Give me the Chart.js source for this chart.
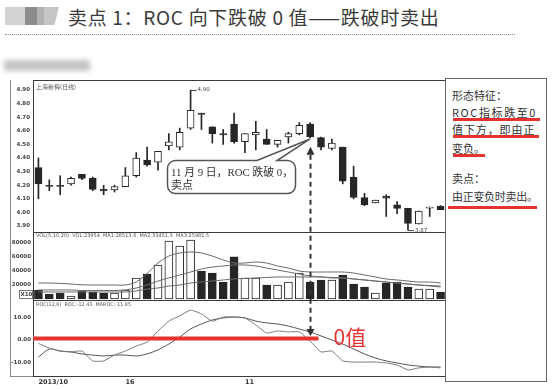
<!DOCTYPE html>
<html>
<head>
<meta charset="utf-8">
<script src="https://cdn.jsdelivr.net/npm/chart.js@4.4.0/dist/chart.umd.min.js"></script>
<style>
body{margin:0;background:#fff;width:553px;height:389px;overflow:hidden;position:relative;font-family:"Noto Sans CJK SC",sans-serif}
.abs{position:absolute;white-space:nowrap}
#title{left:68px;top:6px;font-size:19px;line-height:21px;color:#3a3a3a;letter-spacing:0.7px}
#dots{left:5px;top:34px;width:510px;border-top:1px dotted #8a8a8a}
#blur{left:4px;top:60px;width:86px;height:11px;background:#c4c4c4;filter:blur(2.5px)}
#side{left:445px;top:78px;width:100px;height:302px;border:1px solid #666;background:#fff}
.side{font-size:11px;line-height:13px;color:#333}
.red{position:absolute;height:3px;background:#e5332f}
</style>
</head>
<body>
<div class="abs" style="left:5px;top:7px;width:20px;height:18px;background:#d2d2d2"></div>
<div class="abs" style="left:25px;top:7px;width:12px;height:18px;background:#8c8c8c"></div>
<div class="abs" style="left:37px;top:7px;width:7px;height:18px;background:#b2b2b2"></div>
<div class="abs" style="left:44px;top:7px;width:15px;height:18px;background:#c6c6c6;clip-path:polygon(0 0,100% 0,70% 100%,0 100%)"></div>
<div id="title" class="abs">卖点 1：ROC 向下跌破 0 值——跌破时卖出</div>
<div id="dots" class="abs"></div>
<div id="blur" class="abs"></div>

<canvas id="chart" width="553" height="389" style="position:absolute;left:0;top:0"></canvas>

<div id="side" class="abs"></div>
<div class="abs side" style="left:452px;top:89px">形态特征：</div>
<div class="abs side" style="left:452px;top:106px;letter-spacing:1.6px">ROC指标跌至0</div>
<div class="red" style="left:453px;top:118px;width:87px"></div>
<div class="abs side" style="left:452px;top:123px;letter-spacing:0.9px">值下方，即由正</div>
<div class="red" style="left:453px;top:135px;width:86px"></div>
<div class="abs side" style="left:452px;top:142px">变负。</div>
<div class="red" style="left:453px;top:154px;width:32px"></div>
<div class="abs side" style="left:452px;top:172px">卖点：</div>
<div class="abs side" style="left:452px;top:190px;letter-spacing:-0.3px">由正变负时卖出。</div>
<div class="red" style="left:448px;top:206px;width:89px"></div>

<script>
// daily bars
var dateTicks = ['2013/10', '', '', '', '', '', '', '', '16', '',
	'', '', '', '', '', '', '', '', '', '11',
	'', '', '', '', '', '', '', '', '', '',
	'', '', '', '', '', '', '', ''];
var opens = [4.33, 4.20, 4.20, 4.21, 4.28, 4.25, 4.17, 4.165, 4.19, 4.27,
	4.385, 4.37, 4.49, 4.48, 4.62, 4.73, 4.63, 4.58, 4.65, 4.52,
	4.57, 4.54, 4.50, 4.555, 4.58, 4.65, 4.55, 4.47, 4.48, 4.26,
	4.11, 4.07, 4.12, 4.055, 4.03, 3.915, 4.032, 4.045];
var highs = [4.40, 4.24, 4.27, 4.26, 4.28, 4.26, 4.20, 4.20, 4.33, 4.44,
	4.48, 4.45, 4.58, 4.62, 4.90, 4.73, 4.63, 4.61, 4.73, 4.58,
	4.67, 4.61, 4.53, 4.59, 4.66, 4.66, 4.555, 4.54, 4.48, 4.34,
	4.14, 4.09, 4.13, 4.08, 4.03, 4.01, 4.04, 4.05];
var lows = [4.10, 4.16, 4.13, 4.20, 4.24, 4.16, 4.13, 4.15, 4.19, 4.26,
	4.34, 4.31, 4.46, 4.46, 4.61, 4.61, 4.51, 4.50, 4.51, 4.44,
	4.46, 4.50, 4.48, 4.51, 4.57, 4.55, 4.46, 4.46, 4.21, 4.10,
	4.05, 4.07, 3.97, 3.99, 3.87, 3.915, 3.97, 4.02];
var closes = [4.21, 4.192, 4.192, 4.25, 4.25, 4.17, 4.158, 4.19, 4.27, 4.40,
	4.35, 4.45, 4.52, 4.59, 4.75, 4.72, 4.58, 4.57, 4.52, 4.58,
	4.59, 4.50, 4.53, 4.58, 4.64, 4.555, 4.48, 4.51, 4.23, 4.11,
	4.055, 4.09, 4.105, 4.03, 3.92, 4.01, 4.04, 4.02];
var volumes = [12700, 7000, 8500, 4200, 11300, 9900, 8500, 8500, 12700, 29600,
	35200, 47900, 81700, 74600, 83100, 39400, 36600, 23900, 59200, 29600,
	29600, 19700, 19700, 23900, 36600, 23900, 26800, 26800, 33800, 21100,
	16900, 8500, 22500, 23900, 16900, 14100, 14100, 9900];
var volMa1 = [22500, 22500, 22000, 21100, 20000, 19700, 19700, 19700, 19700, 24000,
	36000, 50700, 60500, 64800, 66200, 64800, 60500, 54900, 50700, 50700,
	52100, 50700, 46500, 43600, 39400, 38000, 38000, 38000, 38000, 36600,
	33800, 31000, 28200, 26800, 25300, 23900, 23900, 22500];
var volMa2 = [12700, 12700, 12700, 12700, 12000, 12000, 12000, 12000, 12700, 15500,
	19700, 25300, 29600, 33800, 38000, 42200, 45000, 46500, 47900, 47900,
	46500, 43600, 40800, 38000, 35200, 32400, 31000, 29600, 29600, 28200,
	26800, 25300, 23900, 22500, 21100, 19700, 18300, 16900];
var volMa3 = [9900, 9900, 9900, 9900, 9900, 9900, 9900, 9900, 9900, 11300,
	14100, 15500, 18300, 19700, 22500, 23900, 25300, 26800, 28200, 29000,
	29600, 30300, 31000, 31000, 31000, 31000, 31000, 30300, 29600, 28200,
	26800, 25300, 23900, 22500, 21100, 19700, 19000, 18300];
var roc = [-1.5, -3.6, -4.9, -5.3, -4.9, -9.3, -9.3, -6.7, -4.9, -2.7,
	-0.9, 4.0, 8.4, 10.7, 13.3, 11.6, 8.4, 10.2, 10.2, 9.8,
	6.7, 3.1, 4.0, 3.6, 3.6, -0.5, -5.3, -4.9, -9.3, -9.8,
	-9.8, -9.8, -10.2, -11.1, -13.3, -12.4, -12.0, -12.4];
var maroc = [-7.6, -4.0, -4.9, -5.3, -6.2, -6.7, -7.1, -6.7, -6.7, -7.1,
	-6.2, -4.4, -1.8, 1.3, 4.9, 7.1, 8.9, 9.8, 10.2, 9.8,
	8.4, 7.6, 7.1, 6.2, 4.9, 3.6, 1.8, 0, -1.8, -4.0,
	-6.2, -8.0, -9.3, -10.2, -11.1, -11.6, -12.0, -12.0];

var priceTicks = [3.90, 4.00, 4.10, 4.20, 4.30, 4.40, 4.50, 4.60, 4.70, 4.80, 4.90];
var volTicks = [20000, 40000, 60000, 80000];
var rocTicks = [-10, 0, 10];
var breakIndex = 25; // 11月9日

var ink = '#262626';
var candleFill = closes.map(function (c, i) { return c > opens[i] ? '#fff' : ink; });

var overlay = {
	id: 'overlay',
	afterDatasetsDraw: function (chart) {
		var ctx = chart.ctx, a = chart.chartArea, sx = chart.scales.x;
		var yp = chart.scales.yPrice, yv = chart.scales.yVol, yr = chart.scales.yRoc;
		ctx.save();

		//panel frames
		ctx.strokeStyle = '#3a3a3a';
		ctx.lineWidth = 1;
		[yp, yv, yr].forEach(function (s) {
			ctx.strokeRect(a.left + 0.5, Math.round(s.top) + 0.5, Math.round(a.right - a.left), Math.round(s.bottom - s.top));
		});
		ctx.strokeStyle = '#8a8a8a';
		ctx.beginPath();
		ctx.moveTo(10.5, a.top); ctx.lineTo(10.5, a.bottom);
		ctx.moveTo(10, Math.round(a.bottom) + 0.5); ctx.lineTo(a.left, Math.round(a.bottom) + 0.5);
		ctx.stroke();

		//tiny panel headers
		ctx.fillStyle = '#555';
		ctx.textBaseline = 'middle';
		ctx.textAlign = 'left';
		ctx.font = '6px "Noto Sans CJK SC"';
		ctx.fillText('上海新梅(日线)', a.left + 3, yp.top + 7);
		ctx.font = '5px "DejaVu Sans"';
		ctx.fillText('VOL(5,10,20)  VOL:23954  MA1:28513.6  MA2:33451.3  MA3:25981.5', a.left + 3, yv.top + 4, 195);
		ctx.fillText('ROC(12,6)  ROC:-12.43  MAROC:-11.85', a.left + 3, yr.top + 5, 95);

		//high / low marks
		var hx = sx.getPixelForValue(14), hy = yp.getPixelForValue(highs[14]);
		var lx = sx.getPixelForValue(34), ly = yp.getPixelForValue(lows[34]);
		ctx.strokeStyle = '#444';
		ctx.beginPath();
		ctx.moveTo(hx, hy + 0.5); ctx.lineTo(hx + 6, hy + 0.5);
		ctx.moveTo(lx, ly + 0.5); ctx.lineTo(lx + 6, ly + 0.5);
		ctx.stroke();
		ctx.font = '5.5px "DejaVu Sans"';
		ctx.fillStyle = '#444';
		ctx.fillText(highs[14].toFixed(2), hx + 7, hy);
		ctx.fillText(lows[34].toFixed(2), lx + 7, ly);

		//unit box
		ctx.strokeStyle = '#777';
		ctx.strokeRect(19.5, yv.bottom - 9.5, 13, 8);
		ctx.font = 'bold 5.5px "DejaVu Sans"';
		ctx.fillText('X10', 20.5, yv.bottom - 5.5);

		//zero line
		var px = Math.round(sx.getPixelForValue(breakIndex)) + 0.5;
		var y0 = yr.getPixelForValue(0) - 1.5;
		ctx.strokeStyle = '#e5332f';
		ctx.lineWidth = 4;
		ctx.beginPath();
		ctx.moveTo(a.left, y0); ctx.lineTo(px + 8, y0);
		ctx.stroke();
		ctx.fillStyle = '#e5332f';
		ctx.font = '21px "Noto Sans CJK SC"';
		ctx.fillText('0值', px + 23, y0 - 1);

		//dashed arrow from the candle to the zero line
		var yTop = yp.getPixelForValue(lows[breakIndex]) + 9;
		var yBot = yr.getPixelForValue(0) - 4;
		ctx.strokeStyle = '#333';
		ctx.lineWidth = 2;
		ctx.setLineDash([5, 4]);
		ctx.beginPath();
		ctx.moveTo(px, yTop + 8); ctx.lineTo(px, yBot - 6);
		ctx.stroke();
		ctx.setLineDash([]);
		ctx.fillStyle = '#333';
		ctx.beginPath();
		ctx.moveTo(px, yTop); ctx.lineTo(px - 4, yTop + 8); ctx.lineTo(px + 4, yTop + 8);
		ctx.fill();
		ctx.beginPath();
		ctx.moveTo(px, yBot); ctx.lineTo(px - 4, yBot - 7); ctx.lineTo(px + 4, yBot - 7);
		ctx.fill();

		//callout
		var tx = sx.getPixelForValue(breakIndex), ty = yp.getPixelForValue(closes[breakIndex]) + 2;
		var l = 167.5, t = 160.5, r = 295.5, b = 193.5, rad = 8;
		ctx.beginPath();
		ctx.moveTo(l + rad, t);
		ctx.lineTo(257, t); ctx.lineTo(tx, ty); ctx.lineTo(277, t);
		ctx.arcTo(r, t, r, b, rad);
		ctx.arcTo(r, b, l, b, rad);
		ctx.arcTo(l, b, l, t, rad);
		ctx.arcTo(l, t, r, t, rad);
		ctx.closePath();
		ctx.fillStyle = '#fff';
		ctx.fill();
		ctx.strokeStyle = '#555';
		ctx.lineWidth = 1.5;
		ctx.stroke();
		ctx.fillStyle = '#333';
		ctx.font = '11px "Liberation Serif", "Noto Sans CJK SC"';
		ctx.fillText('11 月 9 日，ROC 跌破 0，', 171, 173, 122);
		ctx.fillText('卖点', 171, 186);

		ctx.restore();
	}
};

var tickFont = { family: 'DejaVu Sans', size: 5.5, weight: 'bold' };

new Chart(document.getElementById('chart'), {
	type: 'bar',
	data: {
		labels: dateTicks,
		datasets: [{
			type: 'line', data: volMa1, yAxisID: 'yVol', order: 0,
			borderColor: '#6a6a6a', borderWidth: 1, pointRadius: 0, tension: 0.3
		}, {
			type: 'line', data: volMa2, yAxisID: 'yVol', order: 0,
			borderColor: '#6a6a6a', borderWidth: 1, pointRadius: 0, tension: 0.3
		}, {
			type: 'line', data: volMa3, yAxisID: 'yVol', order: 0,
			borderColor: '#6a6a6a', borderWidth: 1, pointRadius: 0, tension: 0.3
		}, {
			type: 'line', data: roc, yAxisID: 'yRoc', order: 0,
			borderColor: '#777', borderWidth: 1, pointRadius: 0, tension: 0.15
		}, {
			type: 'line', data: maroc, yAxisID: 'yRoc', order: 0,
			borderColor: '#555', borderWidth: 1, pointRadius: 0, tension: 0.3
		}, {
			//candle bodies
			data: opens.map(function (o, i) { return [o, closes[i]]; }),
			yAxisID: 'yPrice', order: 1, grouped: false,
			backgroundColor: candleFill, borderColor: ink, borderWidth: 1,
			borderSkipped: false, barThickness: 7
		}, {
			//wicks
			data: lows.map(function (lo, i) { return [lo, highs[i]]; }),
			yAxisID: 'yPrice', order: 2, grouped: false,
			backgroundColor: ink, borderWidth: 0, barThickness: 1
		}, {
			data: volumes,
			yAxisID: 'yVol', order: 1, grouped: false,
			backgroundColor: candleFill, borderColor: ink, borderWidth: 1,
			borderSkipped: false, barThickness: 8
		}]
	},
	options: {
		responsive: false,
		animation: false,
		devicePixelRatio: 1,
		layout: { padding: { left: 11, right: 107, top: 80, bottom: 2 } },
		plugins: { legend: { display: false }, tooltip: { enabled: false } },
		events: [],
		scales: {
			x: {
				type: 'category', offset: true,
				grid: { display: false, drawTicks: false },
				border: { display: false },
				ticks: {
					autoSkip: false, maxRotation: 0, minRotation: 0, align: 'start', padding: 2,
					color: '#333', font: { family: 'DejaVu Sans', size: 6.5, weight: 'bold' },
					callback: function (v, i) { return dateTicks[i]; }
				},
				afterFit: function (s) { s.height = 11; }
			},
			yPrice: {
				type: 'linear', position: 'left', stack: 'k', stackWeight: 152, weight: 3,
				min: 3.856, max: 4.974,
				grid: { display: false, drawTicks: false }, border: { display: false },
				afterBuildTicks: function (s) { s.ticks = priceTicks.map(function (v) { return { value: v }; }); },
				ticks: { autoSkip: false, padding: 3, color: '#444', font: tickFont,
					callback: function (v) { return v.toFixed(2); } },
				afterFit: function (s) { s.width = 22; }
			},
			yVol: {
				type: 'linear', position: 'left', stack: 'k', stackWeight: 68, weight: 2,
				min: -1408, max: 94336,
				grid: { display: false, drawTicks: false }, border: { display: false },
				afterBuildTicks: function (s) { s.ticks = volTicks.map(function (v) { return { value: v }; }); },
				ticks: { autoSkip: false, padding: 2, color: '#444', font: tickFont,
					callback: function (v) { return String(v); } },
				afterFit: function (s) { s.width = 22; }
			},
			yRoc: {
				type: 'linear', position: 'left', stack: 'k', stackWeight: 76, weight: 1,
				min: -16, max: 17.78,
				grid: { display: false, drawTicks: false }, border: { display: false },
				afterBuildTicks: function (s) { s.ticks = rocTicks.map(function (v) { return { value: v }; }); },
				ticks: { autoSkip: false, padding: 2, color: '#444', font: tickFont,
					callback: function (v) { return v.toFixed(2); } },
				afterFit: function (s) { s.width = 22; }
			}
		}
	},
	plugins: [overlay]
});
</script>
</body>
</html>
